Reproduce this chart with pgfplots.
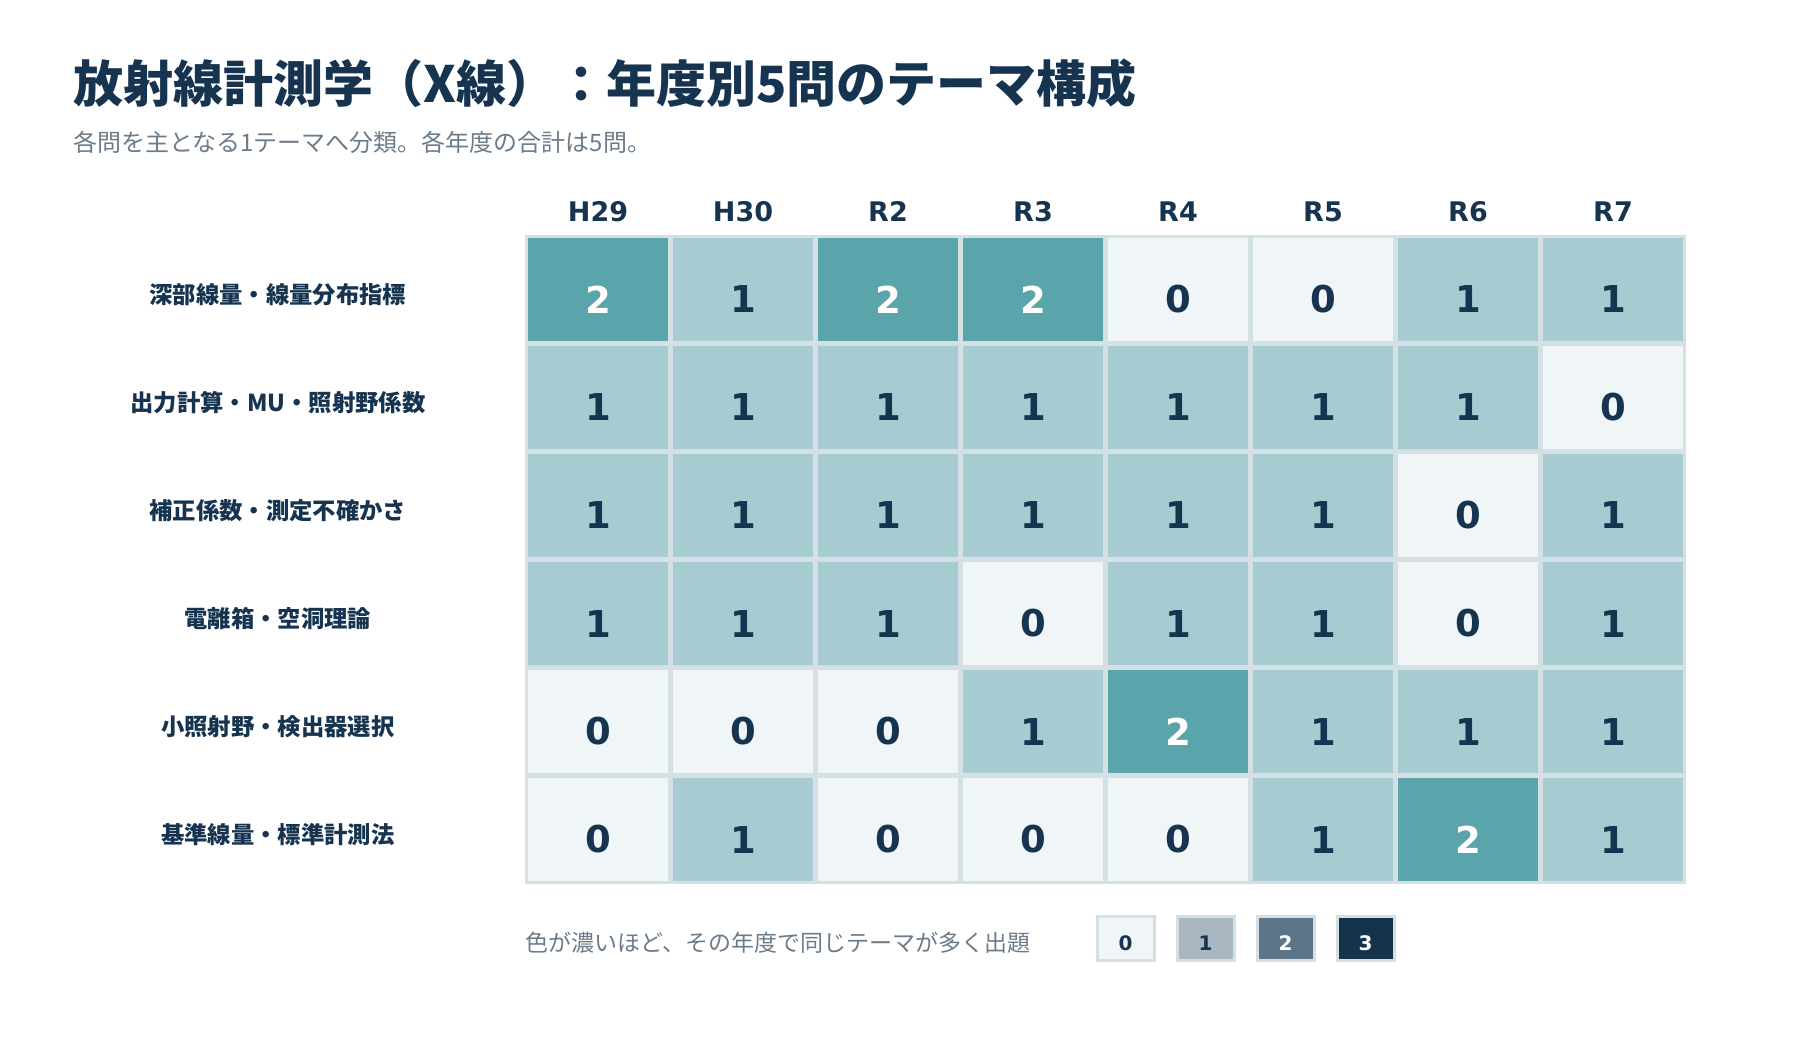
\documentclass[border=0pt]{standalone}
\usepackage{pgfplots}
\pgfplotsset{compat=1.18}
\usepackage{pgfplotstable}
\usepackage{fontspec}
\setmainfont{Noto Sans CJK JP}
\newfontfamily\dejavu{DejaVu Sans}
\definecolor{navy}{HTML}{163450}
\definecolor{subg}{HTML}{6B7B8A}
\definecolor{gapc}{HTML}{D5E0E4}
\definecolor{c0}{HTML}{F0F5F8}
\definecolor{c1}{HTML}{A6CCD1}
\definecolor{c2}{HTML}{5AA4AB}
\definecolor{l1}{HTML}{A8B7C0}
\definecolor{l2}{HTML}{5D7588}
\definecolor{l3}{HTML}{15344C}

\pgfplotstableread{
x y v
0 0 0
1 0 1
2 0 0
3 0 0
4 0 0
5 0 1
6 0 2
7 0 1
0 1 0
1 1 0
2 1 0
3 1 1
4 1 2
5 1 1
6 1 1
7 1 1
0 2 1
1 2 1
2 2 1
3 2 0
4 2 1
5 2 1
6 2 0
7 2 1
0 3 1
1 3 1
2 3 1
3 3 1
4 3 1
5 3 1
6 3 0
7 3 1
0 4 1
1 4 1
2 4 1
3 4 1
4 4 1
5 4 1
6 4 1
7 4 0
0 5 2
1 5 1
2 5 2
3 5 2
4 5 0
5 5 0
6 5 1
7 5 1
}\themes

\begin{document}
\begin{tikzpicture}[x=0.75pt,y=-0.75pt]
\path[use as bounding box] (0,0) rectangle (1800,1040);

\node[anchor=west, inner sep=0, text=navy, font=\bfseries\fontsize{37.5pt}{40pt}\selectfont] at (73,83.5) {放射線計測学（X線）：年度別5問のテーマ構成};
\node[anchor=west, inner sep=0, text=subg, font=\fontsize{18pt}{22pt}\selectfont] at (73,142.5) {各問を主となる1テーマへ分類。各年度の合計は5問。};

\begin{axis}[
 at={(394.875pt,-177.375pt)}, anchor=north west,
 width=868.5pt, height=484.5pt, scale only axis,
 xmin=-0.4931, xmax=7.4931, ymin=-0.4907, ymax=5.4907,
 xtick={0,...,7}, xticklabels={H29,H30,R2,R3,R4,R5,R6,R7},
 xticklabel pos=upper,
 ytick={0,...,5},
 yticklabels={基準線量・標準計測法,小照射野・検出器選択,電離箱・空洞理論,補正係数・測定不確かさ,出力計算・MU・照射野係数,深部線量・線量分布指標},
 major tick length=0pt, minor tick length=0pt,
 minor xtick={0.5,1.5,...,6.5}, minor ytick={0.5,1.5,...,4.5},
 grid=minor, minor grid style={draw=gapc, line width=3.75pt},
 axis line style={draw=gapc, line width=2.25pt},
 axis on top,
 colormap={cells}{rgb255(0cm)=(240,245,248) rgb255(1cm)=(166,204,209) rgb255(2cm)=(90,164,171)},
 point meta min=0, point meta max=2,
 xticklabel style={font=\dejavu\bfseries\fontsize{20.25pt}{24pt}\selectfont, text=navy, anchor=base, yshift=11pt},
 yticklabel style={font=\bfseries\fontsize{17.5pt}{21pt}\selectfont, text=navy, anchor=center, xshift=-186.4pt, yshift=-3.75pt},
]
\addplot[matrix plot*, mesh/cols=8, point meta=explicit] table[x=x,y=y,meta=v]{\themes};
\addplot[only marks, mark=*, mark size=0pt, mark options={draw=none,fill=none},
  point meta=explicit symbolic,
  nodes near coords={\ifnum\pgfplotspointmeta>1 \color{white}\else\color{navy}\fi\pgfplotspointmeta},
  nodes near coords style={anchor=center, yshift=-7.5pt, font=\dejavu\bfseries\fontsize{27.75pt}{32pt}\selectfont}]
  table[x=x,y=y,meta=v]{\themes};
\end{axis}

\node[anchor=west, inner sep=0, text=subg, font=\fontsize{17.25pt}{20pt}\selectfont] at (525,943) {色が濃いほど、その年度で同じテーマが多く出題};
\foreach \cx/\fc/\tc/\lab in {1125.5/c0/navy/0, 1205.5/l1/navy/1, 1285.5/l2/white/2, 1365.5/l3/white/3}{
 \node[draw=gapc, line width=2.25pt, fill=\fc, minimum width=42.75pt, minimum height=33pt, inner sep=0] at (\cx,938.5) {};
 \node[text=\tc, inner sep=0, font=\dejavu\bfseries\fontsize{15pt}{18pt}\selectfont] at (\cx,943) {\lab};
}
\end{tikzpicture}
\end{document}
